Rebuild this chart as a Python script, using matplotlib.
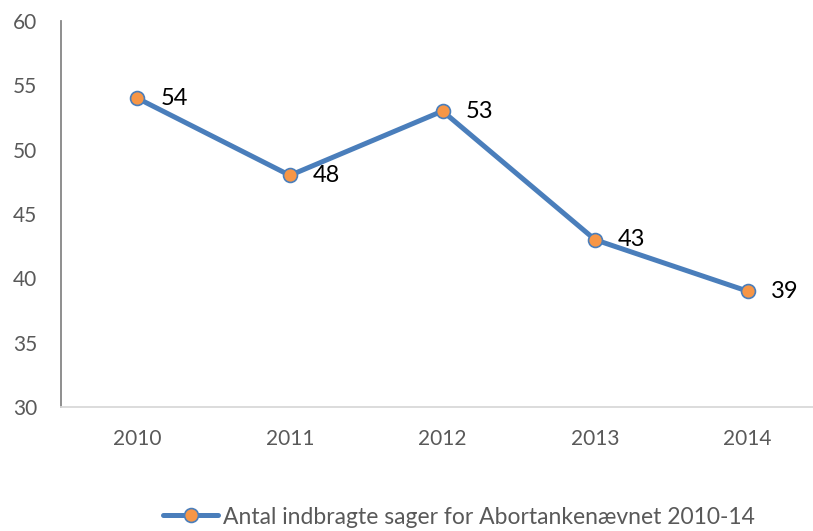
import matplotlib
matplotlib.use("Agg")
import matplotlib.pyplot as plt

years = ["2010", "2011", "2012", "2013", "2014"]
values = [54, 48, 53, 43, 39]
series_name = "Antal indbragte sager for Abortankenævnet 2010-14"
yticks = [30, 35, 40, 45, 50, 55, 60]

plt.rcParams['font.family'] = ['Lato', 'DejaVu Sans']

W, H = 813, 531
fig = plt.figure(figsize=(W / 100, H / 100), dpi=100)
ax = fig.add_axes([61 / W, 1 - 407 / H, 763 / W, 386 / H])

x = list(range(len(years)))
line_color = '#4A7EBB'
ax.plot(x, values, color=line_color, lw=3.6, marker='o', markersize=10,
        markerfacecolor='#F79646', markeredgecolor=line_color, markeredgewidth=1.2,
        label=series_name, solid_capstyle='round', zorder=3)

for xi, v in zip(x, values):
    ax.annotate(str(v), (xi, v), xytext=(16.5, 0), textcoords='offset points',
                ha='left', va='center', fontsize=17, color='black')

ax.set_xlim(-0.5, len(years) - 0.5)
ax.set_ylim(30, 60)
ax.set_yticks(yticks)
ax.set_xticks(x)
ax.set_xticklabels(years)
ax.tick_params(axis='both', length=0, labelsize=15, labelcolor='#595959')
ax.tick_params(axis='y', pad=17)
ax.tick_params(axis='x', pad=16)

for s in ['top', 'right']:
    ax.spines[s].set_visible(False)
ax.spines['left'].set_color('#868686')
ax.spines['left'].set_linewidth(1.3)
ax.spines['bottom'].set_color('#D9D9D9')
ax.spines['bottom'].set_linewidth(1.3)

leg = ax.legend(loc='center', bbox_to_anchor=(459 / W, 1 - 517 / H),
                bbox_transform=fig.transFigure, frameon=False, fontsize=16.5,
                handlelength=2.4, handletextpad=0.2, borderpad=0, borderaxespad=0)
for t in leg.get_texts():
    t.set_color('#595959')

fig.savefig('out.png', dpi=100)
